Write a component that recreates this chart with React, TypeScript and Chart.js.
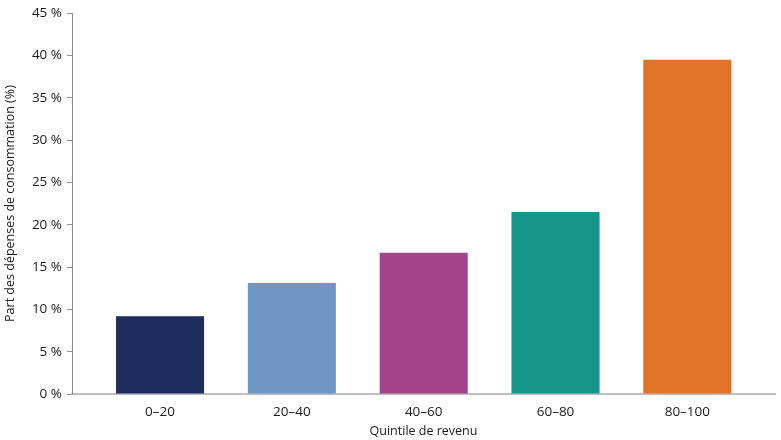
import React, { useEffect, useRef } from 'react';
import { Chart, registerables } from 'chart.js';

Chart.register(...registerables);

// Quintiles de revenu et part des dépenses (%)
const quintiles = ['0–20', '20–40', '40–60', '60–80', '80–100'];
const shares = [9.2, 13.1, 16.7, 21.5, 39.5];
const barColors = ['#1f2d5e', '#7096c5', '#a5438a', '#159688', '#e07427'];
const yTicks = [0, 5, 10, 15, 20, 25, 30, 35, 40, 45];

const FONT = '"Open Sans", "Noto Sans", sans-serif';

const App = () => {
  const chartRef = useRef<HTMLCanvasElement>(null);
  const chartInstance = useRef<Chart | null>(null);

  useEffect(() => {
    document.body.style.margin = '0';
    if (!chartRef.current) return;
    if (chartInstance.current) chartInstance.current.destroy();

    const ctx = chartRef.current.getContext('2d');
    if (!ctx) return;

    chartInstance.current = new Chart(ctx, {
      type: 'bar',
      data: {
        datasets: [{
          data: shares.map((v, i) => ({ x: i, y: v })),
          backgroundColor: barColors,
          borderWidth: 0,
          barPercentage: 0.668,
          categoryPercentage: 1,
        }]
      },
      options: {
        animation: false,
        responsive: false,
        maintainAspectRatio: false,
        layout: { padding: { top: 10, right: 6, bottom: 1, left: 0 } },
        plugins: {
          legend: { display: false },
          tooltip: { enabled: false }
        },
        scales: {
          x: {
            type: 'linear',
            offset: false,
            min: -0.668,
            max: 4.665,
            grid: { display: false, offset: false },
            border: { display: true, color: '#bfbfbf', width: 2 },
            ticks: {
              stepSize: 1,
              includeBounds: false,
              autoSkip: false,
              maxRotation: 0,
              padding: 2,
              color: '#1a1a1a',
              font: { family: FONT, size: 13.5 },
              callback: (value) => Number.isInteger(value) ? quintiles[value as number] : null
            },
            title: {
              display: true,
              text: 'Quintile de revenu',
              color: '#1a1a1a',
              font: { family: FONT, size: 12.5 },
              padding: { top: 3, bottom: 0 }
            },
            afterFit: (scale) => { scale.height = 45; }
          },
          y: {
            min: 0,
            max: 45,
            afterBuildTicks: (scale) => {
              scale.ticks = yTicks.map(v => ({ value: v }));
            },
            grid: {
              display: true,
              drawOnChartArea: false,
              drawTicks: true,
              tickLength: 5,
              color: '#8c8c8c'
            },
            border: { display: true, color: '#8c8c8c', width: 1 },
            ticks: {
              padding: 5,
              color: '#1a1a1a',
              font: { family: FONT, size: 13.5 },
              callback: (value) => `${value} %`
            },
            title: {
              display: true,
              text: 'Part des dépenses de consommation (%)',
              color: '#1a1a1a',
              font: { family: FONT, size: 12.5 },
              padding: { top: 3, bottom: 0 }
            },
            afterFit: (scale) => { scale.width = 72; }
          }
        }
      }
    });

    return () => {
      if (chartInstance.current) {
        chartInstance.current.destroy();
        chartInstance.current = null;
      }
    };
  }, []);

  return (
    <div style={{ width: 781, height: 440, background: '#ffffff' }}>
      <canvas ref={chartRef} width={781} height={440}></canvas>
    </div>
  );
};

export default App;
